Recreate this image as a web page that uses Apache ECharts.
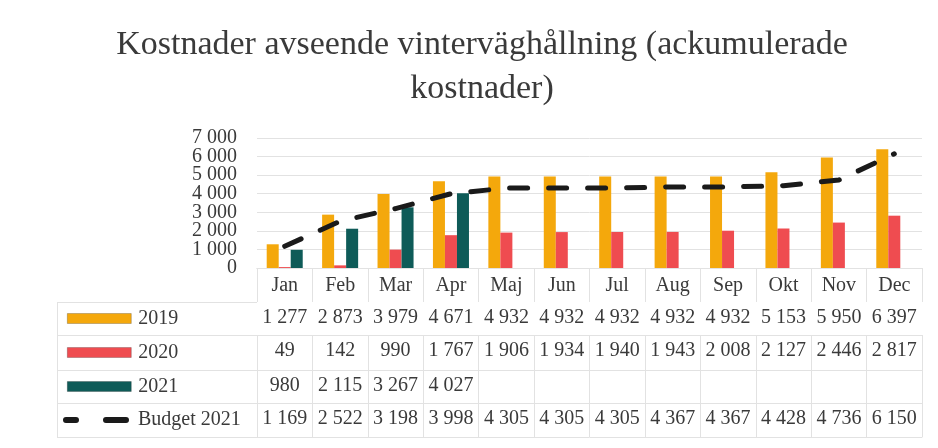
<!DOCTYPE html>
<html>
<head>
<meta charset="utf-8">
<script src="https://cdn.jsdelivr.net/npm/echarts@6/dist/echarts.min.js"></script>
<style>
html,body{margin:0;padding:0;background:#fff;}
#chart{width:938px;height:448px;}
</style>
</head>
<body>
<div id="chart"></div>
<script>
const titleText = 'Kostnader avseende vinterväghållning (ackumulerade\nkostnader)';
const months = ['Jan','Feb','Mar','Apr','Maj','Jun','Jul','Aug','Sep','Okt','Nov','Dec'];
const s2019 = [1277, 2873, 3979, 4671, 4932, 4932, 4932, 4932, 4932, 5153, 5950, 6397];
const s2020 = [49, 142, 990, 1767, 1906, 1934, 1940, 1943, 2008, 2127, 2446, 2817];
const s2021 = [980, 2115, 3267, 4027, null, null, null, null, null, null, null, null];
const budget2021 = [1169, 2522, 3198, 3998, 4305, 4305, 4305, 4367, 4367, 4428, 4736, 6150];
const seriesNames = ['2019', '2020', '2021', 'Budget 2021'];
const yTicks = {min: 0, max: 7000, interval: 1000};

const FONT = '"Liberation Serif", "DejaVu Serif", serif';
const TXT = '#3a3a3a';
const LINE = '#e2e2e2';
const COLORS = ['#F4A80C', '#EF4C50', '#0E5B58', '#1a1a1a'];

function fmt(v) {
  if (v === null || v === undefined || v === '') return '';
  return String(v).replace(/\B(?=(\d{3})+(?!\d))/g, ' ');
}

const gridLeft = 257, gridRight = 16, gridTop = 138, gridBottomY = 268;
const rowTops = [302, 335, 370, 403];
const tableBottom = 437;
const tableLeft = 57;

function rowAxis(values, offset, height) {
  return {
    type: 'category', data: values.map(fmt), position: 'bottom', offset: offset,
    axisLine: {show: true, lineStyle: {color: LINE, width: 1}},
    axisTick: {show: true, length: height, lineStyle: {color: LINE, width: 1}},
    axisLabel: {show: true, interval: 0, margin: 6, fontFamily: FONT, fontSize: 20, color: TXT},
    splitLine: {show: false}
  };
}

const xAxes = [
  {
    type: 'category', data: months, position: 'bottom',
    axisLine: {show: true, lineStyle: {color: LINE}},
    axisTick: {show: true, length: rowTops[0] - gridBottomY, lineStyle: {color: LINE}},
    axisLabel: {interval: 0, margin: 8, fontFamily: FONT, fontSize: 20, color: TXT}
  },
  rowAxis(s2019, rowTops[0] - gridBottomY, rowTops[1] - rowTops[0]),
  rowAxis(s2020, rowTops[1] - gridBottomY, rowTops[2] - rowTops[1]),
  rowAxis(s2021, rowTops[2] - gridBottomY, rowTops[3] - rowTops[2]),
  rowAxis(budget2021, rowTops[3] - gridBottomY, tableBottom - rowTops[3]),
  {
    type: 'category', data: months, position: 'bottom', offset: tableBottom - gridBottomY,
    axisLine: {show: true, lineStyle: {color: LINE}},
    axisTick: {show: false}, axisLabel: {show: false}
  }
];

const yLabelStyle = {margin: 20, fontFamily: FONT, fontSize: 20, color: TXT, hideOverlap: false};
const yAxes = [
  {
    type: 'value', min: yTicks.min, max: yTicks.max, interval: yTicks.interval,
    axisLine: {show: false}, axisTick: {show: false},
    axisLabel: Object.assign({}, yLabelStyle, {showMinLabel: false, showMaxLabel: false, formatter: v => fmt(v)}),
    splitLine: {lineStyle: {color: LINE, width: 1}}
  },
  {
    type: 'value', min: yTicks.min, max: yTicks.max, interval: yTicks.interval, position: 'left',
    axisLine: {show: false}, axisTick: {show: false}, splitLine: {show: false},
    axisLabel: Object.assign({}, yLabelStyle, {showMinLabel: true, showMaxLabel: true,
      formatter: v => (v === yTicks.min || v === yTicks.max) ? fmt(v) : ''})
  }
];

// legend column lines (decoration)
const legendLines = [];
rowTops.concat([tableBottom]).forEach(y => {
  legendLines.push({type: 'line', shape: {x1: tableLeft, y1: y + 0.5, x2: gridLeft, y2: y + 0.5}, style: {stroke: LINE, lineWidth: 1}, silent: true});
});
legendLines.push({type: 'line', shape: {x1: tableLeft + 0.5, y1: rowTops[0], x2: tableLeft + 0.5, y2: tableBottom}, style: {stroke: LINE, lineWidth: 1}, silent: true});

const dashIcon = 'path://M3,0H13A3,3 0 0 1 13,6H3A3,3 0 0 1 3,0Z M43,0H63A3,3 0 0 1 63,6H43A3,3 0 0 1 43,0Z';

const legends = seriesNames.map((name, i) => {
  const top = i < 3 ? rowTops[i] : rowTops[3];
  const bottom = i < 3 ? rowTops[i + 1] : tableBottom;
  return {
    data: [{name: name, icon: i < 3 ? 'rect' : dashIcon}],
    left: i < 3 ? 67 : 63, top: (top + bottom) / 2 - 10, padding: 0,
    itemWidth: i < 3 ? 64 : 66, itemHeight: i < 3 ? 10 : 6, itemGap: 0,
    itemStyle: i < 3 ? {borderWidth: 0.6, borderColor: 'rgba(0,0,0,0.35)'} : {color: COLORS[3], borderWidth: 0},
    textStyle: {fontFamily: FONT, fontSize: 20, color: TXT, lineHeight: 20, padding: [0, 0, 0, i < 3 ? 2 : 4]},
    selectedMode: false
  };
});

const chart = echarts.init(document.getElementById('chart'), null, {renderer: 'canvas'});
chart.setOption({
  animation: false,
  backgroundColor: '#fff',
  title: {
    text: titleText, left: 477, top: 18, textAlign: 'center',
    textStyle: {fontFamily: FONT, fontSize: 34, fontWeight: 'normal', color: TXT, lineHeight: 44}
  },
  legend: legends,
  grid: {left: gridLeft, right: gridRight, top: gridTop, height: gridBottomY - gridTop, containLabel: false},
  xAxis: xAxes,
  yAxis: yAxes,
  graphic: legendLines,
  series: [
    {name: seriesNames[0], type: 'bar', data: s2019, itemStyle: {color: COLORS[0]}, barGap: '0%', barCategoryGap: '35%'},
    {name: seriesNames[1], type: 'bar', data: s2020, itemStyle: {color: COLORS[1]}, barGap: '0%', barCategoryGap: '35%'},
    {name: seriesNames[2], type: 'bar', data: s2021, itemStyle: {color: COLORS[2]}, barGap: '0%', barCategoryGap: '35%'},
    {name: seriesNames[3], type: 'line', data: budget2021, symbol: 'none', z: 5,
     itemStyle: {color: COLORS[3]},
     lineStyle: {color: COLORS[3], width: 5, type: [18, 21], cap: 'round'}}
  ]
});
</script>
</body>
</html>
